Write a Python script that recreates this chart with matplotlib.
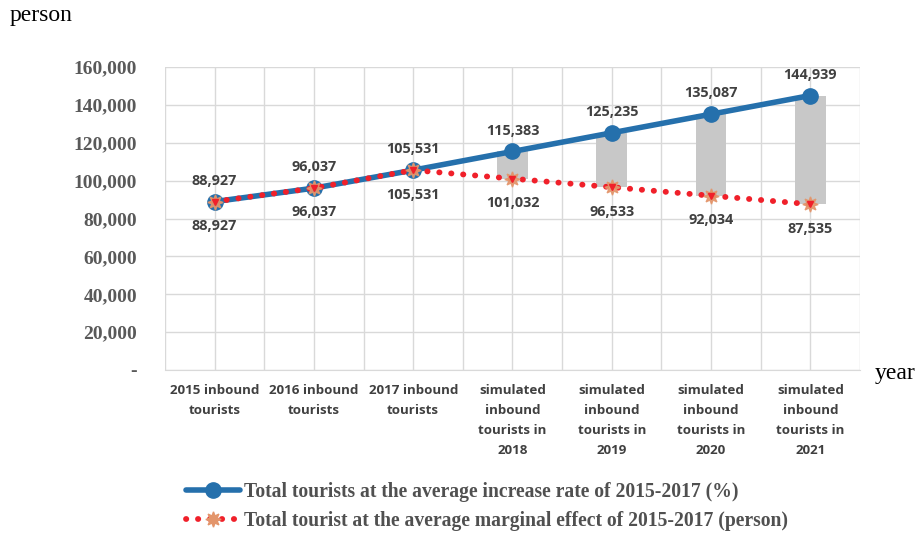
import matplotlib
matplotlib.use("Agg")
import matplotlib.pyplot as plt
from matplotlib.lines import Line2D
from matplotlib.ticker import FuncFormatter, MultipleLocator

categories = [
    "2015 inbound\ntourists",
    "2016 inbound\ntourists",
    "2017 inbound\ntourists",
    "simulated\ninbound\ntourists in\n2018",
    "simulated\ninbound\ntourists in\n2019",
    "simulated\ninbound\ntourists in\n2020",
    "simulated\ninbound\ntourists in\n2021",
]
rate_series = [88927, 96037, 105531, 115383, 125235, 135087, 144939]
marginal_series = [88927, 96037, 105531, 101032, 96533, 92034, 87535]
y_ticks = [0, 20000, 40000, 60000, 80000, 100000, 120000, 140000, 160000]

rate_label = "Total tourists at the average increase rate of 2015-2017 (%)"
marginal_label = "Total tourist at the average marginal effect of 2015-2017 (person)"

BLUE = "#2570AC"
RED = "#F0202A"
SALMON = "#E3956B"
GRAY_TXT = "#404040"
GRID = "#D9D9D9"

fig = plt.figure(figsize=(9.19, 5.36), dpi=100)
ax = fig.add_axes([165 / 919, 1 - 370 / 536, 695 / 919, 303 / 536])

x = list(range(len(categories)))

# floating gap bars between the two projections
for xi, hi, lo in zip(x, rate_series, marginal_series):
    if hi != lo:
        ax.bar(xi, hi - lo, bottom=lo, width=0.31, color="#C8C8C8", zorder=2)

ax.plot(x, rate_series, color=BLUE, lw=4, marker="o", ms=11,
        markerfacecolor=BLUE, markeredgecolor=BLUE, zorder=3, solid_capstyle="round")
ax.plot(x, marginal_series, color=RED, lw=4.2, linestyle=(0, (0.05, 2.0)),
        dash_capstyle="round", zorder=4)
ax.plot(x, marginal_series, linestyle="none", marker=(8, 1, 0), ms=11,
        color=SALMON, alpha=0.9, zorder=5)
ax.plot(x, marginal_series, linestyle="none", marker="v", ms=5,
        color=RED, zorder=6)

# value labels
lab_font = dict(fontfamily="Open Sans", fontweight="bold", fontsize=10.4, color=GRAY_TXT)
for xi, v in zip(x, rate_series):
    ax.annotate(f"{v:,}", (xi, v), xytext=(0, 10), textcoords="offset points",
                ha="center", va="bottom", **lab_font)
for xi, v in zip(x, marginal_series):
    ax.annotate(f"{v:,}", (xi, v), xytext=(0, -12.5), textcoords="offset points",
                ha="center", va="top", **lab_font)

ax.set_xlim(-0.5, len(categories) - 0.5)
ax.set_ylim(0, 160000)
ax.set_yticks(y_ticks)
ax.yaxis.set_major_formatter(FuncFormatter(lambda v, p: "-" if v == 0 else f"{int(v):,}"))
ax.set_xticks(x)
ax.set_xticklabels(categories, fontfamily="Open Sans", fontweight="bold",
                   fontsize=9.6, color=GRAY_TXT, linespacing=1.72, va="top")
for t in ax.get_yticklabels():
    t.set_fontfamily("Liberation Serif")
    t.set_fontweight("bold")
    t.set_fontsize(14)
    t.set_color("#595959")

ax.xaxis.set_minor_locator(MultipleLocator(0.5))
ax.grid(True, which="both", axis="x", color=GRID, lw=1, zorder=0)
ax.grid(True, which="major", axis="y", color=GRID, lw=1, zorder=0)
ax.set_axisbelow(True)
ax.tick_params(axis="both", which="both", length=0)
ax.tick_params(axis="y", pad=20)
ax.tick_params(axis="x", pad=10)
for side in ["top", "right", "left"]:
    ax.spines[side].set_visible(False)
ax.spines["bottom"].set_color(GRID)

fig.text(10 / 919, 1 - 16 / 536, "person", fontfamily="Liberation Serif",
         fontsize=17, ha="left", va="center")
fig.text(875 / 919, 1 - 374 / 536, "year", fontfamily="Liberation Serif",
         fontsize=17, ha="left", va="center")

h1 = Line2D([], [], color=BLUE, lw=4, marker="o", ms=11, solid_capstyle="round")
h2 = Line2D([], [], color=RED, lw=4.2, linestyle=(0, (0.05, 2.0)),
            dash_capstyle="round", marker=(8, 1, 0), ms=11,
            markerfacecolor=SALMON, markeredgecolor=SALMON)
fig.legend([h1, h2], [rate_label, marginal_label], loc="upper left",
           bbox_to_anchor=(176 / 919, 1 - 472 / 536), frameon=False,
           handlelength=2.75, handletextpad=0.2, labelspacing=0.45,
           prop=dict(family="Liberation Serif", weight="bold", size=14.1),
           labelcolor="#505050", borderpad=0)

fig.savefig("out.png", dpi=100)
